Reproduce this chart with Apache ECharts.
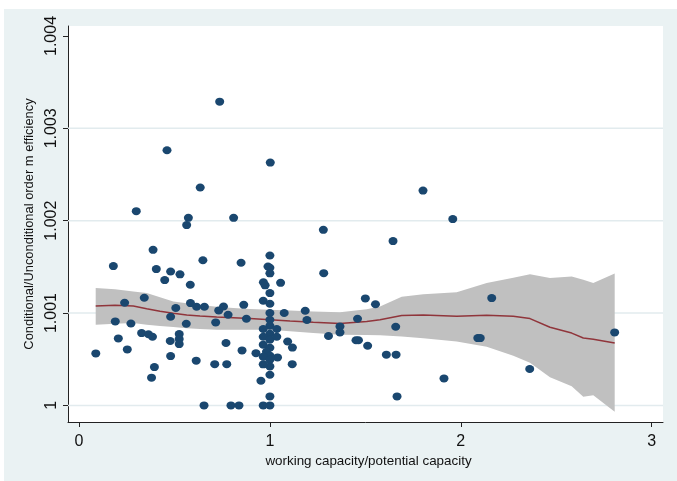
<!DOCTYPE html>
<html>
<head>
<meta charset="utf-8">
<script src="https://cdn.jsdelivr.net/npm/echarts@6/dist/echarts.min.js"></script>
<style>
  html, body { margin: 0; padding: 0; background: #ffffff; }
  #panel { position: absolute; left: 4px; top: 9px; width: 673px; height: 472px; background: #EAF2F3; }
</style>
</head>
<body>
<div id="panel"></div>
<script>
// Observed ratio against working/potential capacity
const capX = [
  0.088, 0.180, 0.239, 0.190, 0.272, 0.206, 0.253, 0.342, 0.328, 0.364,
  0.385, 0.388, 0.405, 0.449, 0.480, 0.529, 0.480, 0.507, 0.478, 0.525,
  0.525, 0.525, 0.480, 0.395, 0.380, 0.583, 0.649, 0.584, 0.616, 0.657,
  0.562, 0.614, 0.711, 0.774, 0.716, 0.732, 0.757, 0.781, 0.770, 0.863,
  0.877, 0.849, 0.854, 0.655, 0.796, 0.838, 0.927, 0.953, 0.965, 1.000,
  1.000, 1.000, 1.000, 0.965, 1.040, 1.093, 1.118, 1.117, 1.075, 1.056,
  1.000, 0.990, 1.000, 1.000, 0.966, 0.975, 1.000, 0.965, 1.000, 1.000,
  1.000, 1.000, 0.965, 1.036, 1.000, 0.965, 1.000, 1.036, 0.965, 1.000,
  0.982, 1.000, 0.965, 1.000, 1.185, 1.194, 1.280, 1.282, 1.307, 1.367,
  1.367, 1.459, 1.451, 1.464, 1.500, 1.553, 1.512, 1.610, 1.661, 1.659,
  1.666, 1.645, 1.802, 1.958, 1.912, 2.089, 2.102, 2.162, 2.361, 2.806,
  0.737, 0.461, 1.002, 0.635, 0.300, 0.573, 0.810, 0.564
];
const effRatio = [
  1.000563, 1.001508, 1.001111, 1.000909, 1.000887, 1.000725, 1.000606, 1.001165, 1.000783, 1.000770,
  1.000743, 1.001684, 1.001476, 1.001357, 1.001450, 1.001419, 1.000960, 1.001054, 1.000697, 1.000772,
  1.000718, 1.000664, 1.000534, 1.000415, 1.000300, 1.001306, 1.001571, 1.001108, 1.001068, 1.001068,
  1.000884, 1.000484, 1.000446, 1.000446, 1.000898, 1.001028, 1.001071, 1.000981, 1.000675, 1.001089,
  1.000938, 1.001544, 1.000595, 1.000000, 1.000000, 1.000000, 1.000565, 1.000267, 1.000000, 1.000000,
  1.000097, 1.000332, 1.000422, 1.000444, 1.000519, 1.000692, 1.000626, 1.000446, 1.001000, 1.001327,
  1.001623, 1.001504, 1.001490, 1.001430, 1.001333, 1.001300, 1.001216, 1.001133, 1.001100, 1.001000,
  1.000927, 1.000862, 1.000827, 1.000827, 1.000776, 1.000743, 1.000711, 1.000743, 1.000657, 1.000624,
  1.000581, 1.000538, 1.000527, 1.000494, 1.001025, 1.000924, 1.001901, 1.001432, 1.000751, 1.000855,
  1.000790, 1.000938, 1.000705, 1.000705, 1.001158, 1.001095, 1.000646, 1.000549, 1.000549, 1.000851,
  1.000097, 1.001779, 1.002326, 1.002017, 1.000292, 1.000729, 1.000729, 1.001162, 1.000394, 1.000790,
  1.003289, 1.002763, 1.002629, 1.002359, 1.002103, 1.002031, 1.002031, 1.001952
];

// Local polynomial smooth with its confidence band
const fitX = [
  0.0875, 0.1886, 0.2844, 0.3546, 0.4243, 0.4940, 0.5642, 0.6338, 0.7213, 0.8083,
  0.8958, 1.0005, 1.1053, 1.2273, 1.3672, 1.5071, 1.5768, 1.6904, 1.8036, 1.9785,
  2.1357, 2.2750, 2.3625, 2.4672, 2.5809, 2.6417, 2.6941, 2.8062
];
const fitMid = [
  1.001075, 1.001084, 1.001075, 1.001046, 1.001019, 1.000998, 1.000978, 1.000967, 1.000956, 1.000949,
  1.000940, 1.000927, 1.000914, 1.000900, 1.000886, 1.000908, 1.000927, 1.000974, 1.000978, 1.000965,
  1.000976, 1.000965, 1.000940, 1.000846, 1.000783, 1.000729, 1.000716, 1.000675
];
const fitHi = [
  1.001270, 1.001257, 1.001233, 1.001216, 1.001171, 1.001125, 1.001106, 1.001086, 1.001068, 1.001054,
  1.001043, 1.001035, 1.001027, 1.001017, 1.001008, 1.001041, 1.001071, 1.001176, 1.001203, 1.001225,
  1.001324, 1.001382, 1.001420, 1.001378, 1.001396, 1.001360, 1.001324, 1.001427
];
const fitLo = [
  1.000873, 1.000884, 1.000891, 1.000873, 1.000860, 1.000848, 1.000835, 1.000827, 1.000819, 1.000819,
  1.000819, 1.000819, 1.000803, 1.000783, 1.000765, 1.000762, 1.000760, 1.000745, 1.000727, 1.000691,
  1.000635, 1.000538, 1.000462, 1.000305, 1.000206, 1.000094, 1.000110, 0.999930
];

// Axis ticks
const xTicks = [0, 1, 2, 3];
const yTicks = [1, 1.001, 1.002, 1.003, 1.004];
const yGrid = [1, 1.001, 1.002, 1.003];

const X_MIN = -0.0576, X_MAX = 3.0592;
const Y_MIN = 0.99982, Y_MAX = 1.004108;

const FONT = '"Liberation Sans", Arial, sans-serif';
const chart = echarts.init(document.getElementById('panel'), null, { renderer: 'canvas' });

chart.setOption({
  animation: false,
  grid: {
    left: 64, top: 17, right: 14, bottom: 59,
    show: true, backgroundColor: '#ffffff', borderWidth: 0
  },
  xAxis: {
    type: 'value',
    min: X_MIN, max: X_MAX,
    name: 'working capacity/potential capacity',
    nameLocation: 'middle',
    nameGap: 29,
    nameTextStyle: { fontFamily: FONT, fontSize: 13.4, color: '#111', padding: [0, 0, 0, 6] },
    axisLine: { onZero: false, lineStyle: { color: '#222', width: 1 } },
    axisTick: { show: true, length: 5, customValues: xTicks, lineStyle: { color: '#222' } },
    axisLabel: { customValues: xTicks, fontFamily: FONT, fontSize: 16, color: '#111', margin: 12 },
    splitLine: { show: false }
  },
  yAxis: {
    type: 'value',
    min: Y_MIN, max: Y_MAX,
    name: 'Conditional/Unconditional order m efficiency',
    nameLocation: 'middle',
    nameRotate: 90,
    nameGap: 23,
    nameTextStyle: { fontFamily: FONT, fontSize: 12.9, color: '#111' },
    axisLine: { onZero: false, lineStyle: { color: '#222', width: 1 } },
    axisTick: { show: true, length: 5, customValues: yTicks, lineStyle: { color: '#222' } },
    axisLabel: {
      customValues: yTicks, rotate: 90, fontFamily: FONT, fontSize: 16, color: '#111', margin: 8,
      formatter: v => (Math.round(v * 1000) / 1000).toString()
    },
    splitLine: { show: false }
  },
  series: [
    {
      // horizontal grid lines across the plot region
      type: 'custom',
      name: 'grid',
      z: 1,
      silent: true,
      data: yGrid.map(v => [v]),
      encode: { y: 0 },
      renderItem: (params, api) => {
        const v = api.value(0);
        const a = api.coord([X_MIN, v]);
        const b = api.coord([X_MAX, v]);
        return {
          type: 'line',
          shape: { x1: a[0], y1: a[1], x2: b[0], y2: b[1] },
          style: { stroke: '#E2EBEE', lineWidth: 1.5 }
        };
      }
    },
    {
      type: 'custom',
      name: 'band',
      z: 2,
      silent: true,
      data: fitX.map((x, i) => [x, fitLo[i], fitHi[i]]),
      encode: { x: 0, y: [1, 2] },
      renderItem: (params, api) => {
        if (params.dataIndex !== 0) return null;
        const pts = [];
        for (let i = 0; i < fitX.length; i++) pts.push(api.coord([fitX[i], fitHi[i]]));
        for (let i = fitX.length - 1; i >= 0; i--) pts.push(api.coord([fitX[i], fitLo[i]]));
        return { type: 'polygon', shape: { points: pts }, style: { fill: '#C0C0C0', stroke: null } };
      }
    },
    {
      type: 'line',
      name: 'smooth',
      z: 3,
      showSymbol: false,
      data: fitX.map((x, i) => [x, fitMid[i]]),
      lineStyle: { color: '#90353B', width: 1.5 }
    },
    {
      type: 'scatter',
      name: 'obs',
      z: 4,
      symbol: 'circle',
      symbolSize: [9, 8],
      itemStyle: { color: '#1A476F', opacity: 1 },
      data: capX.map((x, i) => [x, effRatio[i]])
    }
  ]
});
</script>
</body>
</html>
